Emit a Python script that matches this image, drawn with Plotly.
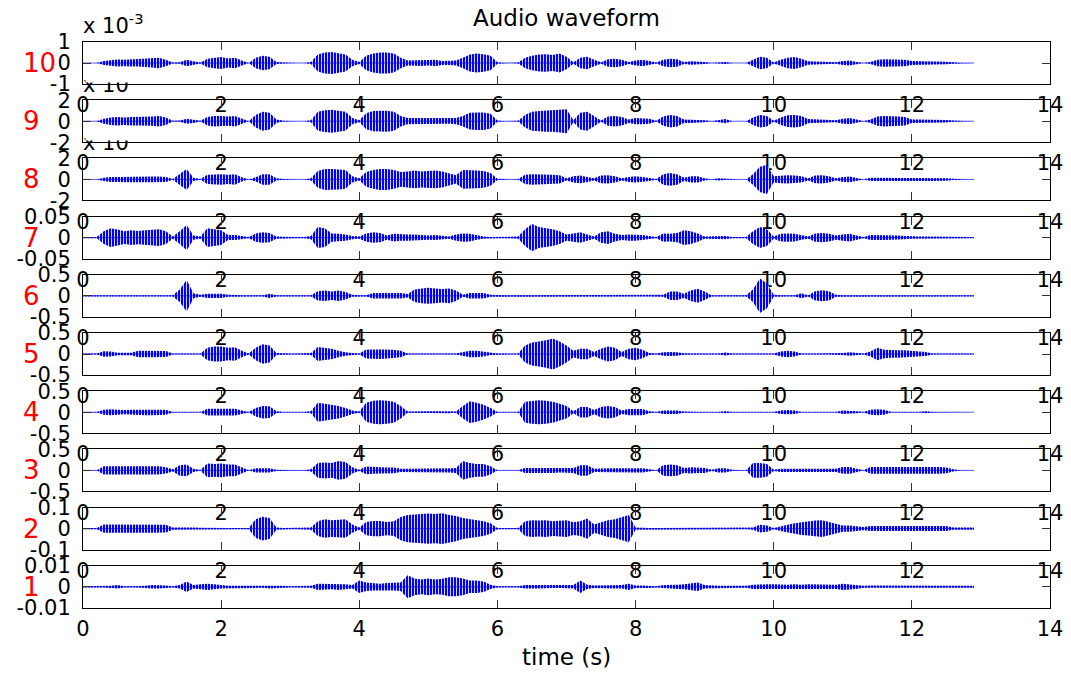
import plotly.graph_objects as go

# ---------------- data ----------------
# envelope amplitude of each channel in 0.1 s bins (t = 0.0 ... 12.9 s),
# given in percent of that channel's axis limit
time_step = 0.1
n_bins = 130
time_s = [round(i * time_step, 1) for i in range(n_bins)]

channels = [10, 9, 8, 7, 6, 5, 4, 3, 2, 1]
y_limit = {10: 1e-3, 9: 2e-3, 8: 2e-3, 7: 0.05, 6: 0.5, 5: 0.5, 4: 0.5, 3: 0.5, 2: 0.1, 1: 0.01}
y_ticktext = {
    10: ["-1", "0", "1"], 9: ["-2", "0", "2"], 8: ["-2", "0", "2"],
    7: ["-0.05", "0", "0.05"], 6: ["-0.5", "0", "0.5"], 5: ["-0.5", "0", "0.5"],
    4: ["-0.5", "0", "0.5"], 3: ["-0.5", "0", "0.5"], 2: ["-0.1", "0", "0.1"],
    1: ["-0.01", "0", "0.01"],
}
x_ticks = [0, 2, 4, 6, 8, 10, 12, 14]

env10 = [0,0,0,10,15,17,15,17,17,18, 22,25,15,2,3,15,8,2,20,25, 28,22,25,12,0,25,35,30,5,2,
         0,0,0,5,40,50,52,45,40,15, 5,35,45,50,50,45,25,12,12,14, 12,15,10,10,12,25,40,45,42,35,
         3,0,0,2,25,35,40,42,38,45, 30,3,25,30,15,3,18,20,15,5, 12,15,10,2,15,20,18,5,8,8,
         5,0,3,5,0,0,0,15,30,25, 2,15,25,28,20,8,6,6,5,3, 10,12,5,0,5,15,18,17,16,15,
         10,8,7,7,7,6,3,0,0,0]
env9 = [0,0,0,12,18,20,18,20,20,20, 22,25,18,2,3,12,8,2,20,25, 25,22,25,12,0,30,45,40,8,2,
        0,0,0,5,45,52,55,50,45,15, 5,38,48,50,50,45,25,15,15,15, 15,15,12,12,15,25,40,42,42,35,
        3,0,0,2,30,45,48,50,50,52, 57,5,40,45,25,3,22,25,20,8, 15,15,12,2,22,30,25,8,8,8,
        5,0,5,10,0,0,0,18,30,25, 2,18,28,30,25,10,8,8,6,5, 12,15,8,0,8,22,25,25,22,20,
        8,8,8,8,7,6,3,0,0,0]
env8 = [0,0,0,8,12,12,13,12,14,13, 14,14,12,2,25,50,8,2,22,25, 25,22,25,10,0,10,25,25,5,2,
        0,0,0,5,40,50,50,48,45,15, 5,35,45,50,50,45,35,38,42,38, 40,42,38,30,20,45,45,42,40,30,
        3,0,0,2,22,25,25,22,22,20, 5,15,18,12,5,18,20,15,5,12, 15,12,8,2,25,30,25,8,15,15,
        5,0,5,3,0,0,0,25,60,70, 15,18,20,18,15,5,18,20,15,5, 12,14,8,0,8,8,8,8,8,8,
        8,8,8,8,8,6,3,0,0,0]
env7 = [3,3,3,30,45,38,30,35,32,35, 38,40,30,5,30,60,10,5,45,40, 35,12,12,8,3,20,25,22,5,4,
        3,3,3,8,50,45,20,18,15,8, 5,20,25,22,10,18,15,15,15,12, 10,12,8,5,15,20,18,10,5,3,
        3,3,3,5,40,65,50,45,40,30, 15,20,25,15,5,25,30,18,12,15, 15,12,8,3,20,18,22,35,30,20,
        5,5,8,8,3,3,3,30,50,40, 5,18,20,18,10,5,20,22,18,10, 15,18,10,3,12,12,12,10,10,8,
        5,5,5,5,5,4,4,3,3,3]
env6 = [3,3,3,3,3,3,3,3,3,3, 3,3,3,3,30,75,12,5,10,10, 10,5,3,3,3,3,3,10,3,3,
        3,3,3,3,22,25,20,25,18,5, 3,3,13,13,13,13,13,8,30,35, 38,35,32,35,25,5,13,13,13,5,
        3,3,3,3,3,3,3,3,3,3, 3,3,3,3,3,3,3,3,3,3, 3,3,3,3,5,20,20,10,25,33,
        20,3,3,3,3,3,3,30,82,60, 5,3,3,3,12,3,22,26,22,5, 3,3,3,3,3,3,3,3,3,3,
        3,3,3,3,3,3,3,3,3,3]
env5 = [2,2,2,13,12,6,6,6,16,16, 16,16,14,2,2,2,2,2,30,36, 36,30,32,15,2,30,46,40,5,2,
        2,2,2,5,33,28,25,15,8,5, 2,22,22,24,22,20,15,2,2,2, 2,2,2,2,2,10,16,16,12,5,
        2,2,2,2,40,55,60,65,74,60, 40,15,25,25,10,25,36,30,10,25, 30,20,5,2,8,10,8,3,2,2,
        2,2,2,7,2,2,2,2,2,2, 2,12,16,12,2,2,2,2,2,2, 5,8,5,2,12,30,20,18,18,18,
        15,12,10,2,2,2,2,2,2,2]
env4 = [1,1,1,12,14,12,10,12,12,14, 14,14,12,1,1,1,1,1,16,16, 16,16,16,8,1,20,30,28,5,1,
        1,1,1,5,45,40,35,30,20,8, 3,45,55,57,55,50,30,3,3,5, 5,5,5,5,3,30,52,45,35,20,
        1,1,1,1,50,55,57,55,50,40, 30,5,25,25,10,25,30,25,8,15, 16,15,5,1,8,8,8,3,1,1,
        1,1,1,5,1,1,1,1,1,1, 1,8,10,8,1,1,1,1,1,1, 8,8,5,1,12,14,12,1,1,1,
        1,1,5,1,1,1,1,1,1,1]
env3 = [1,1,1,20,20,20,22,20,20,22, 20,20,15,5,25,28,8,2,33,30, 33,28,28,15,1,10,10,10,3,1,
        1,1,1,5,35,38,35,45,40,15, 3,18,16,16,14,14,8,8,8,8, 8,8,10,10,12,45,35,30,30,20,
        1,1,1,1,12,12,10,12,12,10, 10,12,25,25,8,10,10,10,10,10, 10,10,5,1,25,28,25,12,15,12,
        12,3,10,10,3,1,1,35,35,30, 3,8,8,8,8,8,8,8,8,8, 16,16,8,1,16,16,16,16,18,18,
        16,16,16,16,16,14,5,1,1,1]
env2 = [3,3,3,20,20,18,20,18,20,20, 20,20,18,5,6,6,5,4,3,3, 3,3,3,3,3,45,57,50,5,3,
        3,3,3,5,35,44,40,42,44,20, 5,32,36,36,32,35,55,65,68,70, 72,70,73,65,60,50,45,40,35,25,
        3,3,3,3,35,40,38,40,35,38, 40,30,35,48,20,30,40,45,55,65, 5,3,3,3,3,3,3,3,3,3,
        3,3,3,6,3,3,3,5,18,15, 3,12,18,25,30,33,38,40,32,25, 15,15,12,8,12,12,12,12,12,12,
        12,12,12,12,12,12,5,5,5,5]
env1 = [3,3,3,3,5,8,3,3,3,5, 8,8,6,3,8,25,8,12,15,12, 8,5,5,5,5,5,5,8,5,5,
        3,3,3,5,15,15,12,15,12,8, 30,20,18,15,18,18,20,55,40,35, 40,35,38,45,45,40,30,30,25,10,
        3,3,3,3,8,8,8,8,6,6, 6,8,30,10,6,6,8,8,8,15, 6,6,6,3,8,8,10,12,15,20,
        8,5,5,5,5,5,5,10,12,12, 12,10,10,12,10,12,12,12,10,10, 15,12,10,5,6,6,5,5,5,5,
        5,5,5,5,5,5,5,5,5,5]

envelopes = {10: env10, 9: env9, 8: env8, 7: env7, 6: env6, 5: env5,
             4: env4, 3: env3, 2: env2, 1: env1}

# ---------------- layout geometry (pixels) ----------------
W, H = 1071, 675
L_PX, R_PX, T_PX, B_PX = 83, 1050, 42, 609
PW, PH = R_PX - L_PX, B_PX - T_PX
SUB_H = 42
PITCH = 58.2
FONT = "DejaVu Sans, Verdana, sans-serif"
TICK_SIZE = 21
BLUE = "#0000ff"


def px_x(px):
    return (px - L_PX) / PW


def px_y(py):
    return (B_PX - py) / PH


fig = go.Figure()
layout_axes = {}
annotations = []

for i, ch in enumerate(channels):
    n = i + 1
    xa = "x" if n == 1 else f"x{n}"
    ya = "y" if n == 1 else f"y{n}"
    lim = y_limit[ch]
    amp = [v / 100.0 * lim for v in envelopes[ch]]

    top_px = T_PX + PITCH * i
    bot_px = top_px + SUB_H
    dom = [px_y(bot_px), px_y(top_px)]

    # envelope (dense waveform strokes: blue with thin white gaps)
    xs = time_s + time_s[::-1]
    ys = amp + [-a for a in amp[::-1]]
    fig.add_trace(go.Scatter(
        x=xs, y=ys, xaxis=xa, yaxis=ya, mode="lines", fill="toself",
        line=dict(width=0, color=BLUE), fillcolor=BLUE,
        fillpattern=dict(shape="|", fgcolor="white", bgcolor=BLUE,
                         fgopacity=0.85, size=3, solidity=0.35),
        hoverinfo="skip", showlegend=False))
    # baseline of the waveform
    fig.add_trace(go.Scatter(
        x=[time_s[0], time_s[-1]], y=[0, 0], xaxis=xa, yaxis=ya, mode="lines",
        line=dict(width=1, color="rgba(0,0,255,0.65)"),
        hoverinfo="skip", showlegend=False))

    axis_common = dict(showline=True, linecolor="black", linewidth=1, mirror="ticks",
                       ticks="inside", ticklen=8, tickcolor="#333", showgrid=False,
                       zeroline=False, automargin=False,
                       tickfont=dict(family=FONT, size=TICK_SIZE, color="black"))
    layout_axes["xaxis" if n == 1 else f"xaxis{n}"] = dict(
        domain=[0, 1], anchor=ya, range=[0, 14], tickvals=x_ticks,
        ticktext=[str(v) for v in x_ticks], ticklabelstandoff=2, **axis_common)
    layout_axes["yaxis" if n == 1 else f"yaxis{n}"] = dict(
        domain=dom, anchor=xa, range=[-lim, lim], tickvals=[-lim, 0, lim],
        ticktext=y_ticktext[ch], ticklabelstandoff=7, **axis_common)

    # red channel label
    annotations.append(dict(
        text=str(ch), xref="paper", yref="paper", x=px_x(21), y=px_y((top_px + bot_px) / 2),
        xanchor="left", yanchor="middle", showarrow=False,
        font=dict(family=FONT, size=26, color="red")))

    # partially hidden exponent labels of channels 9 and 8
    if ch in (9, 8):
        prev_bot = T_PX + PITCH * (i - 1) + SUB_H
        annotations.append(dict(
            text="x 10", xref="paper", yref="paper", x=px_x(L_PX - 2), y=px_y(prev_bot + 1),
            xanchor="left", yanchor="middle", showarrow=False,
            font=dict(family=FONT, size=TICK_SIZE, color="black")))
        annotations.append(dict(
            text=" ", xref="paper", yref="paper", x=px_x(L_PX + 1.5), y=px_y(prev_bot - 0.8),
            xanchor="left", yanchor="bottom", showarrow=False, width=62, height=12,
            bgcolor="white", borderpad=0, font=dict(size=8)))

# exponent label of the top channel
annotations.append(dict(
    text="x 10<sup>-3</sup>", xref="paper", yref="paper", x=px_x(L_PX - 2), y=px_y(40),
    xanchor="left", yanchor="bottom", showarrow=False,
    font=dict(family=FONT, size=TICK_SIZE, color="black")))
# title and x-axis label
annotations.append(dict(
    text="Audio waveform", xref="paper", yref="paper", x=0.5, y=px_y(18),
    xanchor="center", yanchor="middle", showarrow=False,
    font=dict(family=FONT, size=23, color="black")))
annotations.append(dict(
    text="time (s)", xref="paper", yref="paper", x=0.5, y=px_y(657),
    xanchor="center", yanchor="middle", showarrow=False,
    font=dict(family=FONT, size=23, color="black")))

fig.update_layout(
    width=W, height=H,
    margin=dict(l=L_PX, r=W - R_PX, t=T_PX, b=H - B_PX, pad=0),
    paper_bgcolor="white", plot_bgcolor="rgba(0,0,0,0)",
    showlegend=False, annotations=annotations, **layout_axes)

fig.write_html("out.html", config={"displayModeBar": False},
               post_script="document.body.style.margin='0';document.body.style.padding='0';")
